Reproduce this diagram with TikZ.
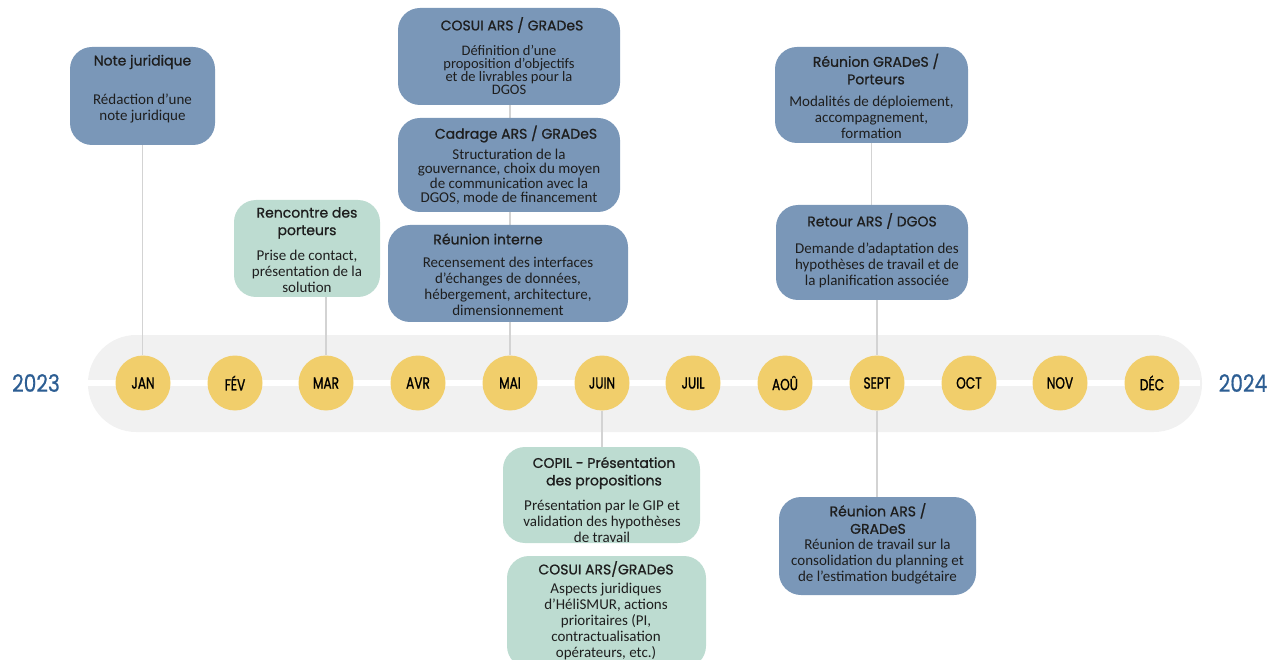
\documentclass[tikz,border=0pt]{standalone}
\usepackage{fontspec}
\setmainfont{Carlito}
\newfontfamily\ttlfont[FakeBold=0.9]{Poppins}
\newfontfamily\monfont[FakeBold=1.2,FakeStretch=0.76]{Poppins}
\newfontfamily\yrfont[FakeBold=0.6,FakeStretch=0.84]{Poppins}
\definecolor{boxblue}{HTML}{7A97B8}
\definecolor{boxgreen}{HTML}{BDDCD1}
\definecolor{bandgray}{HTML}{F1F1F1}
\definecolor{circyellow}{HTML}{F1CE6B}
\definecolor{yearblue}{HTML}{2D5E93}
\definecolor{conngray}{HTML}{D3D3D3}
\definecolor{txt}{HTML}{1E1E1E}
\pgfdeclarelayer{bg}
\pgfdeclarelayer{links}
\pgfsetlayers{bg,links,main}
\tikzset{
  evbox/.style={rounded corners=22pt, inner sep=0pt},
  bluebox/.style={evbox, fill=boxblue},
  greenbox/.style={evbox, fill=boxgreen},
  ttl/.style={font=\ttlfont\fontsize{14}{17.5}\selectfont, align=center, text=txt, inner sep=0pt},
  bdy/.style={font=\fontsize{15}{16}\selectfont, align=center, text=txt, inner sep=0pt},
  month/.style={circle, fill=circyellow, minimum size=55pt, inner sep=0pt, text=black,
    font=\monfont\fontsize{16}{16}\selectfont},
  year/.style={text=yearblue, font=\yrfont\fontsize{24}{24}\selectfont, inner sep=0pt},
  link/.style={draw=conngray, line width=1.2pt}
}
\begin{document}
\begin{tikzpicture}[x=1pt,y=-1pt]
\useasboundingbox (0,0) rectangle (1277,660);
\clip (0,0) rectangle (1277,660);
\begin{pgfonlayer}{bg}
\fill[bandgray, rounded corners=48pt] (88,335) rectangle (1202,432);
\draw[white, line width=6pt] (88,383) -- (1200,383);
\end{pgfonlayer}
% months
\node[month] (jan) at (143,383) {JAN};
\node[month] (fev) at (235,383) {FÉV};
\node[month] (mar) at (326,383) {MAR};
\node[month] (avr) at (418,383) {AVR};
\node[month] (mai) at (510,383) {MAI};
\node[month] (juin) at (602,383) {JUIN};
\node[month] (juil) at (693,383) {JUIL};
\node[month] (aou) at (785,383) {AOÛ};
\node[month] (sept) at (877,383) {SEPT};
\node[month] (oct) at (969,383) {OCT};
\node[month] (nov) at (1060,383) {NOV};
\node[month] (dec) at (1152,383) {DÉC};
\node[year] (y23) at (36,383) {2023};
\node[year] (y24) at (1243,383) {2024};
% boxes
\node[bluebox, minimum width=145pt, minimum height=98pt] (nj) at (142.5,96) {};
\node[ttl] (njt) at (142.5,62) {Note juridique};
\node[bdy] (njb) at (142.5,108) {Rédaction d’une\\note juridique};

\node[bluebox, minimum width=222pt, minimum height=97pt] (cs) at (509,56.5) {};
\node[ttl] (cst) at (512,25) {COSUI ARS / GRADeS};
\node[bdy, font=\fontsize{14.5}{13}\selectfont] (csb) at (509,70) {Définition d’une\\proposition d’objectifs\\et de livrables pour la\\DGOS};

\node[bluebox, minimum width=222pt, minimum height=94pt] (cd) at (509,165) {};
\node[ttl] (cdt) at (516,134) {Cadrage ARS / GRADeS};
\node[bdy, font=\fontsize{15}{14.5}\selectfont] (cdb) at (509,177) {Structuration de la\\gouvernance, choix du moyen\\de communication avec la\\DGOS, mode de financement};

\node[bluebox, minimum width=240pt, minimum height=97pt] (ri) at (508,273.5) {};
\node[ttl] (rit) at (488,239) {Réunion interne};
\node[bdy] (rib) at (508,286.5) {Recensement des interfaces\\d’échanges de données,\\hébergement, architecture,\\dimensionnement};

\node[greenbox, minimum width=146pt, minimum height=97pt] (rc) at (307,248.5) {};
\node[ttl] (rct) at (307,223) {Rencontre des\\porteurs};
\node[bdy] (rcb) at (307,271.5) {Prise de contact,\\présentation de la\\solution};

\node[bluebox, minimum width=193pt, minimum height=96pt] (rg) at (871.5,95) {};
\node[ttl] (rgt) at (876,69) {Réunion GRADeS /\\Porteurs};
\node[bdy] (rgb) at (871.5,117.5) {Modalités de déploiement,\\accompagnement,\\formation};

\node[bluebox, minimum width=192pt, minimum height=95pt] (ra) at (872,252.5) {};
\node[ttl] (rat) at (872,221) {Retour ARS / DGOS};
\node[bdy] (rab) at (877,265.5) {Demande d’adaptation des\\hypothèses de travail et de\\la planification associée};

\node[greenbox, minimum width=197pt, minimum height=96pt] (cp) at (601.5,495) {};
\node[ttl] (cpt) at (604,473) {COPIL - Présentation\\des propositions};
\node[bdy] (cpb) at (602,521.5) {Présentation par le GIP et\\validation des hypothèses\\de travail};

\node[greenbox, minimum width=199pt, minimum height=112pt] (cg) at (606.5,612) {};
\node[ttl] (cgt) at (606,569) {COSUI ARS/GRADeS};
\node[bdy] (cgb) at (606,621) {Aspects juridiques\\d’HéliSMUR, actions\\prioritaires (PI,\\contractualisation\\opérateurs, etc.)};

\node[bluebox, minimum width=197pt, minimum height=98pt] (rr) at (877.5,546) {};
\node[ttl] (rrt) at (878,518.5) {Réunion ARS /\\GRADeS};
\node[bdy] (rrb) at (877.5,561.5) {Réunion de travail sur la\\consolidation du planning et\\de l’estimation budgétaire};
% connectors
\begin{pgfonlayer}{links}
\draw[link] (nj.south) -- (nj.south |- jan.north);
\draw[link] (mar.north |- rc.south) -- (mar.north);
\draw[link] (mai.north |- cs.center) -- (mai.north);
\draw[link] (juin.south) -- (juin.south |- cp.north);
\draw[link] (rg.south) -- (rg.south |- ra.north);
\draw[link] (sept.north |- ra.south) -- (sept.north);
\draw[link] (sept.south) -- (sept.south |- rr.north);
\end{pgfonlayer}
\end{tikzpicture}
\end{document}
